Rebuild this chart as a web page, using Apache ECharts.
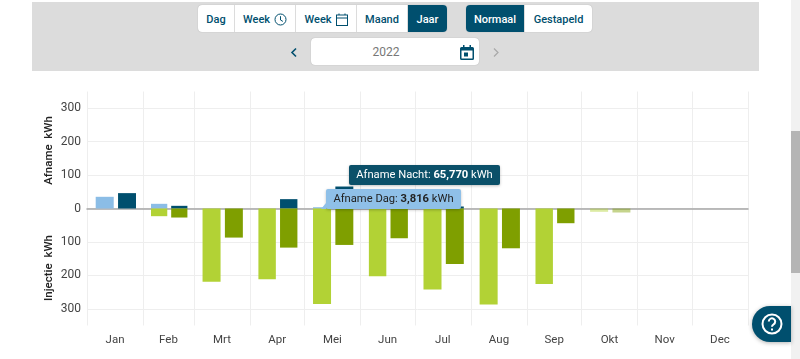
<!DOCTYPE html>
<html lang="nl">
<head>
<meta charset="UTF-8">
<title>Jaar 2022</title>
<script src="https://cdn.jsdelivr.net/npm/echarts@6/dist/echarts.min.js"></script>
<style>
    html, body { margin: 0; padding: 0; width: 800px; height: 359px; overflow: hidden; background: #fff; font-family: Roboto, sans-serif; }
    #main { position: absolute; left: 0; top: 0; width: 800px; height: 359px; }
    .panel { position: absolute; left: 32px; top: 2px; width: 727px; height: 69px; background: #dcdcdc; }
    .btn-group { position: absolute; top: 5px; height: 27px; display: flex; border-radius: 4px; background: #fff; box-shadow: 0 0 1px #999; overflow: hidden; }
    .btn { box-sizing: border-box; height: 27px; padding-top: 1px; font-size: 11px; font-weight: 500; color: #004f6e; text-align: center; border-right: 1px solid #dcdcdc; display: flex; align-items: center; justify-content: center; gap: 4px; }
    .btn:last-child { border-right: 0; }
    .btn.on { background: #004f6e; color: #fff; }
    .date { position: absolute; left: 311px; top: 38px; width: 168px; height: 27px; line-height: 28px; background: #fff; border-radius: 4px; box-shadow: 0 0 1px #999; font-size: 12px; color: #777; text-align: center; text-indent: -18px; }
    .abs { position: absolute; }
    .tip { position: absolute; box-sizing: border-box; height: 20px; line-height: 20px; border-radius: 2px; font-size: 11.2px; text-align: center; white-space: nowrap; box-shadow: 0 1px 3px rgba(0,0,0,.25); }
    .tip b { font-weight: 700; }
    .tip.arrow:before { content: ""; position: absolute; left: -5px; bottom: 0; border-bottom: 6px solid; border-bottom-color: inherit; border-left: 5px solid transparent; }
    .scroll { position: absolute; left: 791px; top: 0; width: 9px; height: 359px; background: #f1f1f1; }
    .thumb { position: absolute; left: 791px; top: 131px; width: 9px; height: 142px; background: #b5b5b5; }
    .help { position: absolute; left: 752px; top: 306px; width: 39px; height: 36px; background: #004f6e; border-radius: 18px 0 0 18px; box-shadow: 0 1px 4px rgba(0,0,0,.3); }
</style>
</head>
<body>
<div id="main"></div>

<div class="panel"></div>
<div class="btn-group" style="left:198px">
    <div class="btn" style="width:37px">Dag</div>
    <div class="btn" style="width:61px">Week
        <svg width="13" height="13" viewBox="0 0 13 13" fill="none" stroke="#004f6e" stroke-width="1"><circle cx="6.5" cy="6.5" r="5.5"/><path d="M6.5 3.2V7l2.4 1.4"/></svg></div>
    <div class="btn" style="width:61px">Week
        <svg width="12" height="13" viewBox="0 0 12 13" fill="none" stroke="#004f6e" stroke-width="1"><rect x=".5" y="2" width="11" height="10.5"/><path d="M.5 5h11M3 .5V2M9 .5V2"/></svg></div>
    <div class="btn" style="width:51px">Maand</div>
    <div class="btn on" style="width:39px">Jaar</div>
</div>
<div class="btn-group" style="left:466px">
    <div class="btn on" style="width:59px">Normaal</div>
    <div class="btn" style="width:67px">Gestapeld</div>
</div>
<svg class="abs" style="left:290px;top:47px" width="8" height="11" viewBox="0 0 8 11" fill="none" stroke="#004f6e" stroke-width="1.6"><path d="M6 1.5 2 5.5l4 4"/></svg>
<div class="date">2022</div>
<svg class="abs" style="left:460px;top:45px" width="14" height="15" viewBox="0 0 14 15"><path fill="#004f6e" d="M3 0h1.5v2h5V0H11v2h1.5A1.5 1.5 0 0 1 14 3.500v10a1.500 1.500 0 0 1-1.500 1.500h-11A1.500 1.500 0 0 1 0 13.500v-10A1.500 1.500 0 0 1 1.500 2H3zM1.500 5.500v8h11v-8z"/><rect fill="#004f6e" x="4" y="7.500" width="4" height="4"/></svg>
<svg class="abs" style="left:492px;top:47px" width="8" height="11" viewBox="0 0 8 11" fill="none" stroke="#a8a8a8" stroke-width="1.200"><path d="M2 1.500l4 4-4 4"/></svg>

<div class="tip" style="left:349px;top:165px;width:151px;background:#0b5069;color:#fff">Afname Nacht: <b>65,770</b> kWh</div>
<div class="tip arrow" style="left:326px;top:189px;width:135px;background:#8fc0e8;border-color:#8fc0e8;color:#222">Afname Dag: <b>3,816</b> kWh</div>

<div class="scroll"></div>
<div class="thumb"></div>
<div class="help">
    <svg class="abs" style="left:9px;top:7px" width="22" height="22" viewBox="0 0 22 22" fill="none" stroke="#fff" stroke-width="2"><circle cx="11" cy="11" r="9.500"/><path d="M7.800 8.500a3.200 3.200 0 1 1 4.800 2.800c-1 .6-1.600 1.200-1.600 2.400"/><path d="M11 15.500v2"/></svg>
</div>

<script type="text/javascript">
    const months = ['Jan', 'Feb', 'Mrt', 'Apr', 'Mei', 'Jun', 'Jul', 'Aug', 'Sep', 'Okt', 'Nov', 'Dec'];
    const monthDays = [31, 28, 31, 30, 31, 30, 31, 31, 30, 31, 30, 31];
    const afnameDag = [35, 14, 0, 0, 3.816, 0, 0, 0, 0, 0, 0, 0];
    const afnameNacht = [46, 8, 0, 28, 65.77, 0, 6, 0, 0, 0, 0, 0];
    const injectieDag = [0, -23, -219, -212, -286, -203, -242, -287, -226, -10, 0, 0];
    const injectieNacht = [0, -27, -87, -117, -109, -89, -166, -119, -44, -12, 0, 0];
    const yTicks = [-300, -200, -100, 0, 100, 200, 300];

    // the x axis runs in days, so short months get narrower columns
    let monthStarts = [];
    let dayCount = 0;
    monthDays.forEach(function (d) {
        monthStarts.push(dayCount);
        dayCount += d;
    });
    let monthMids = monthStarts.map(function (s, i) { return s + monthDays[i] / 2; });

    // month index -> faded bars (Okt is pale in the picture)
    const paleMonth = 9;

    function barSeries(name, values, color, from, to) {
        return {
            name: name,
            type: 'custom',
            silent: true,
            data: values.map(function (v, i) { return [i, v]; }).filter(function (d) { return d[1] !== 0; }),
            encode: { y: 1 },
            renderItem: function (params, api) {
                let i = api.value(0);
                let v = api.value(1);
                let left = api.coord([monthStarts[i] + from * monthDays[i], 0]);
                let right = api.coord([monthStarts[i] + to * monthDays[i], v]);
                return {
                    type: 'rect',
                    shape: { x: left[0], y: Math.min(left[1], right[1]), width: right[0] - left[0], height: Math.abs(right[1] - left[1]) },
                    style: { fill: color, opacity: i === paleMonth ? 0.45 : 1 }
                };
            }
        };
    }

    let myChart = echarts.init(document.getElementById('main'));
    const option = {
        animation: false,
        textStyle: { fontFamily: 'Roboto' },
        grid: { left: 87, right: 52, top: 91.5, height: 234 },
        xAxis: {
            type: 'value',
            min: 0,
            max: dayCount,
            axisLine: { show: true, onZero: true, lineStyle: { color: '#a6a6a6', width: 1.5 } },
            axisTick: { show: false, customValues: monthStarts.concat([dayCount]) },
            splitLine: { show: true, lineStyle: { color: '#eeeeee' } },
            axisLabel: {
                customValues: monthMids,
                margin: 9,
                color: '#444',
                fontSize: 11.5,
                formatter: function (value) { return months[monthMids.indexOf(value)]; }
            }
        },
        yAxis: {
            type: 'value',
            min: -350,
            max: 350,
            axisLine: { show: false },
            axisTick: { show: false, customValues: yTicks },
            splitLine: { show: true, lineStyle: { color: '#eeeeee' } },
            axisLabel: {
                customValues: yTicks,
                margin: 6,
                color: '#444',
                fontSize: 12,
                formatter: function (value) { return Math.abs(value); }
            }
        },
        graphic: [
            { type: 'text', rotation: Math.PI / 2, x: 49, y: 150.5, style: { text: 'Afname  kWh', fontFamily: 'Roboto', fontSize: 11.5, fontWeight: 500, fill: '#222', align: 'center', verticalAlign: 'middle' } },
            { type: 'text', rotation: Math.PI / 2, x: 49, y: 268, style: { text: 'Injectie  kWh', fontFamily: 'Roboto', fontSize: 11.5, fontWeight: 500, fill: '#222', align: 'center', verticalAlign: 'middle' } }
        ],
        series: [
            barSeries('Afname Dag', afnameDag, '#8bbde6', 0.155, 0.476),
            barSeries('Afname Nacht', afnameNacht, '#004f6e', 0.553, 0.873),
            barSeries('Injectie Dag', injectieDag, '#b2d235', 0.155, 0.476),
            barSeries('Injectie Nacht', injectieNacht, '#7f9f00', 0.553, 0.873)
        ]
    };
    myChart.setOption(option);
</script>
</body>
</html>
